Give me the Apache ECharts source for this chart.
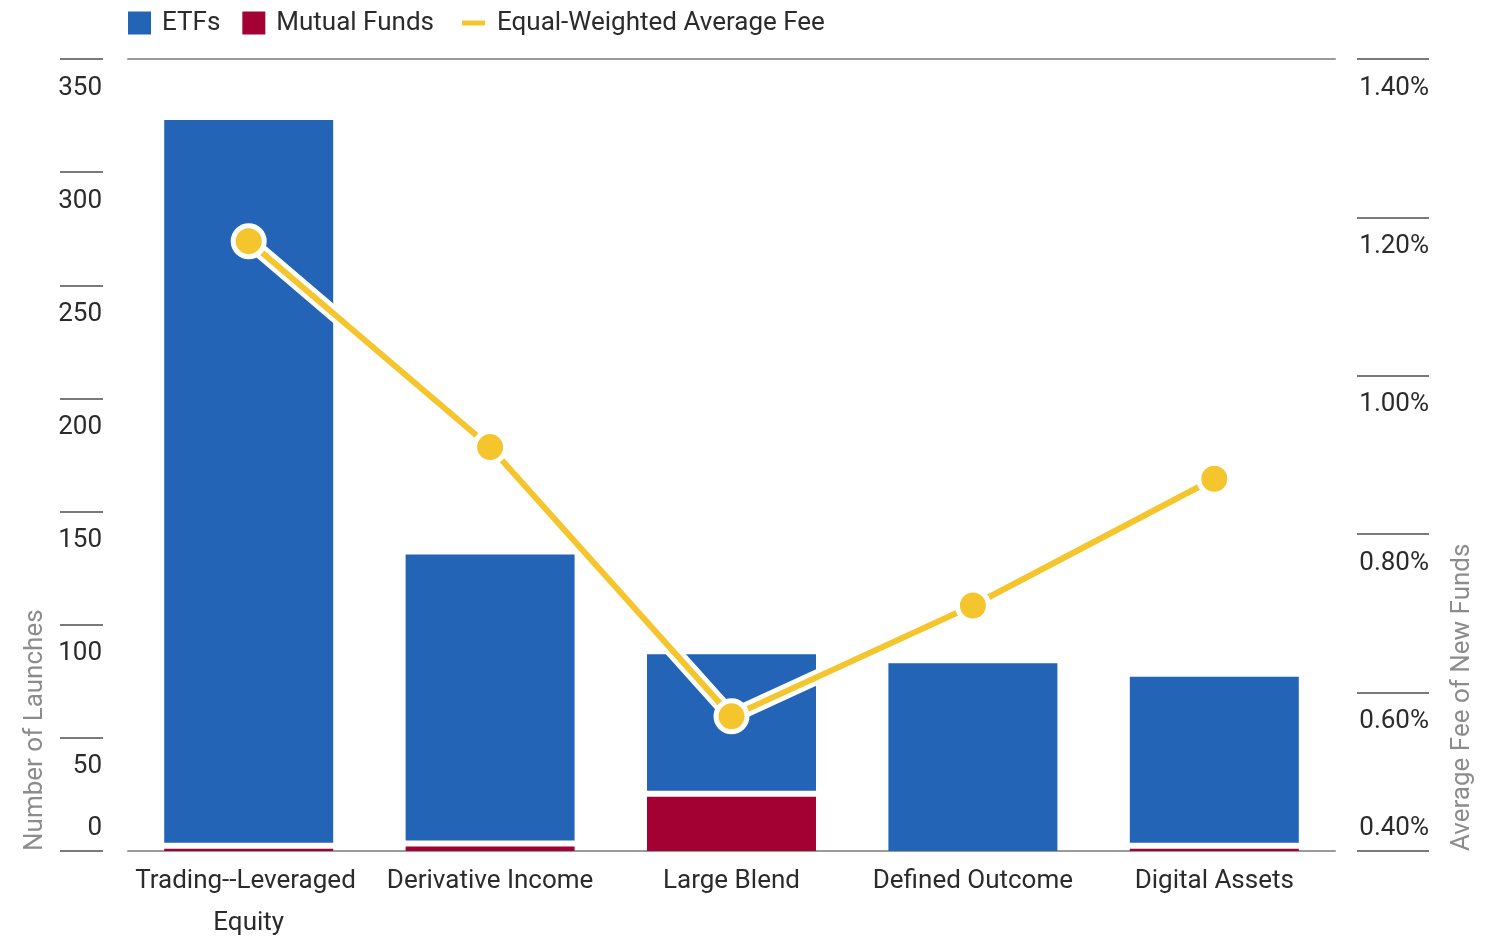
<!DOCTYPE html>
<html>
<head>
<meta charset="utf-8">
<script src="https://cdn.jsdelivr.net/npm/echarts@6/dist/echarts.min.js"></script>
<style>
  html, body { margin: 0; padding: 0; background: #fff; }
  #chart { width: 1501px; height: 940px; }
</style>
</head>
<body>
<div id="chart"></div>
<script>
// data
var categories = ['Trading--Leveraged Equity', 'Derivative Income', 'Large Blend', 'Defined Outcome', 'Digital Assets'];
var etfLaunches = [322, 129, 63, 83, 76];
var mutualFundLaunches = [1, 2, 24, 0, 1];
var averageFee = [1.17, 0.91, 0.57, 0.71, 0.87]; // percent
var countTicks = [0, 350, 50];   // min, max, interval
var feeTicks = [0.4, 1.4, 0.2];

var FONT = 'Roboto, "Liberation Sans", sans-serif';
var FS = 26;
var BLUE = '#2364B7';
var RED = '#A30033';
var YELLOW = '#F5C52E';
var TEXT = '#2b2b2b';
var GREY = '#8c8c8c';
var RULE = '#9a9a9a';

var chart = echarts.init(document.getElementById('chart'), null, { renderer: 'canvas' });

// ETF segment sits on top of the mutual fund segment, with a small white gap
var etfData = categories.map(function (c, i) {
  return [i, mutualFundLaunches[i], mutualFundLaunches[i] + etfLaunches[i]];
});

function renderEtf(params, api) {
  var i = api.value(0);
  var base = api.value(1);
  var top = api.value(2);
  var p0 = api.coord([i, base]);
  var p1 = api.coord([i, top]);
  var w = api.size([1, 0])[0] * 0.7;
  var gap = base > 0 ? 6 : 0;
  return {
    type: 'rect',
    shape: { x: p0[0] - w / 2, y: p1[1], width: w, height: p0[1] - p1[1] - gap },
    style: { fill: BLUE }
  };
}

// labels sit below their tick, except the bottom one which sits above it
function tickLabel(minVal, fmt) {
  return function (v) {
    var s = fmt(v);
    return Math.abs(v - minVal) < 1e-9 ? '{t|' + s + '}\n{up| }' : '{down| }\n{t|' + s + '}';
  };
}

var tickRich = {
  t: { fontFamily: FONT, fontSize: FS, color: TEXT, lineHeight: 30 },
  down: { fontSize: 10, lineHeight: 58 },
  up: { fontSize: 10, lineHeight: 46 }
};

var legendText = { fontFamily: FONT, fontSize: FS, color: TEXT, padding: [0, 0, 0, 6] };

var option = {
  animation: false,
  textStyle: { fontFamily: FONT },
  legend: [{
    data: ['ETFs', 'Mutual Funds'],
    left: 128,
    top: 10,
    padding: 0,
    icon: 'rect',
    itemWidth: 23,
    itemHeight: 23,
    itemGap: 22,
    selectedMode: false,
    textStyle: legendText
  }, {
    data: [{ name: 'Equal-Weighted Average Fee', icon: 'roundRect' }],
    left: 460,
    top: 10,
    padding: 0,
    itemWidth: 25,
    itemHeight: 7,
    selectedMode: false,
    textStyle: legendText
  }],
  grid: { left: 128, right: 166, top: 59, bottom: 89, outerBoundsMode: 'none', containLabel: false },
  xAxis: [{
    type: 'category',
    data: categories,
    axisLine: { lineStyle: { color: RULE, width: 2 } },
    axisTick: { show: false },
    axisLabel: {
      interval: 0,
      fontFamily: FONT,
      fontSize: FS,
      color: TEXT,
      lineHeight: 42,
      margin: 9,
      width: 238,
      overflow: 'break'
    }
  }, {
    type: 'category',
    data: categories,
    position: 'top',
    axisLine: { lineStyle: { color: RULE, width: 2 } },
    axisTick: { show: false },
    axisLabel: { show: false }
  }],
  yAxis: [{
    type: 'value',
    min: countTicks[0],
    max: countTicks[1],
    interval: countTicks[2],
    offset: 25,
    axisLine: { show: false },
    axisTick: { show: true, length: 43, lineStyle: { color: '#7a7a7a', width: 2 } },
    splitLine: { show: false },
    axisLabel: {
      fontFamily: FONT,
      fontSize: FS,
      color: TEXT,
      margin: 1,
      rich: tickRich,
      formatter: tickLabel(countTicks[0], function (v) { return String(v); })
    }
  }, {
    type: 'value',
    position: 'right',
    min: feeTicks[0],
    max: feeTicks[1],
    interval: feeTicks[2],
    offset: 22,
    axisLine: { show: false },
    axisTick: { show: true, length: 72, lineStyle: { color: '#7a7a7a', width: 2 } },
    splitLine: { show: false },
    axisLabel: {
      fontFamily: FONT,
      fontSize: FS,
      color: TEXT,
      margin: 72,
      align: 'right',
      rich: tickRich,
      formatter: tickLabel(feeTicks[0], function (v) { return v.toFixed(2) + '%'; })
    }
  }],
  graphic: [{
    type: 'text',
    x: 35,
    y: 851,
    rotation: Math.PI / 2,
    style: {
      text: 'Number of Launches',
      fill: GREY,
      font: FS + 'px ' + FONT,
      textAlign: 'left',
      textVerticalAlign: 'middle',
      align: 'left',
      verticalAlign: 'middle'
    }
  }, {
    type: 'text',
    x: 1462,
    y: 851,
    rotation: Math.PI / 2,
    style: {
      text: 'Average Fee of New Funds',
      fill: GREY,
      font: FS + 'px ' + FONT,
      textAlign: 'left',
      textVerticalAlign: 'middle',
      align: 'left',
      verticalAlign: 'middle'
    }
  }],
  series: [{
    name: 'Mutual Funds',
    type: 'bar',
    barWidth: '70%',
    data: mutualFundLaunches,
    itemStyle: { color: RED },
    z: 2
  }, {
    name: 'ETFs',
    type: 'custom',
    renderItem: renderEtf,
    data: etfData,
    encode: { x: 0, y: [1, 2] },
    itemStyle: { color: BLUE },
    z: 2
  }, {
    // white halo under the fee line
    name: 'halo',
    type: 'line',
    yAxisIndex: 1,
    data: averageFee,
    symbol: 'none',
    lineStyle: { color: '#fff', width: 15 },
    silent: true,
    z: 3
  }, {
    name: 'Equal-Weighted Average Fee',
    type: 'line',
    yAxisIndex: 1,
    data: averageFee,
    symbol: 'circle',
    symbolSize: 31,
    lineStyle: { color: YELLOW, width: 6 },
    itemStyle: { color: YELLOW, borderColor: '#fff', borderWidth: 5 },
    z: 4
  }]
};

chart.setOption(option);
</script>
</body>
</html>
